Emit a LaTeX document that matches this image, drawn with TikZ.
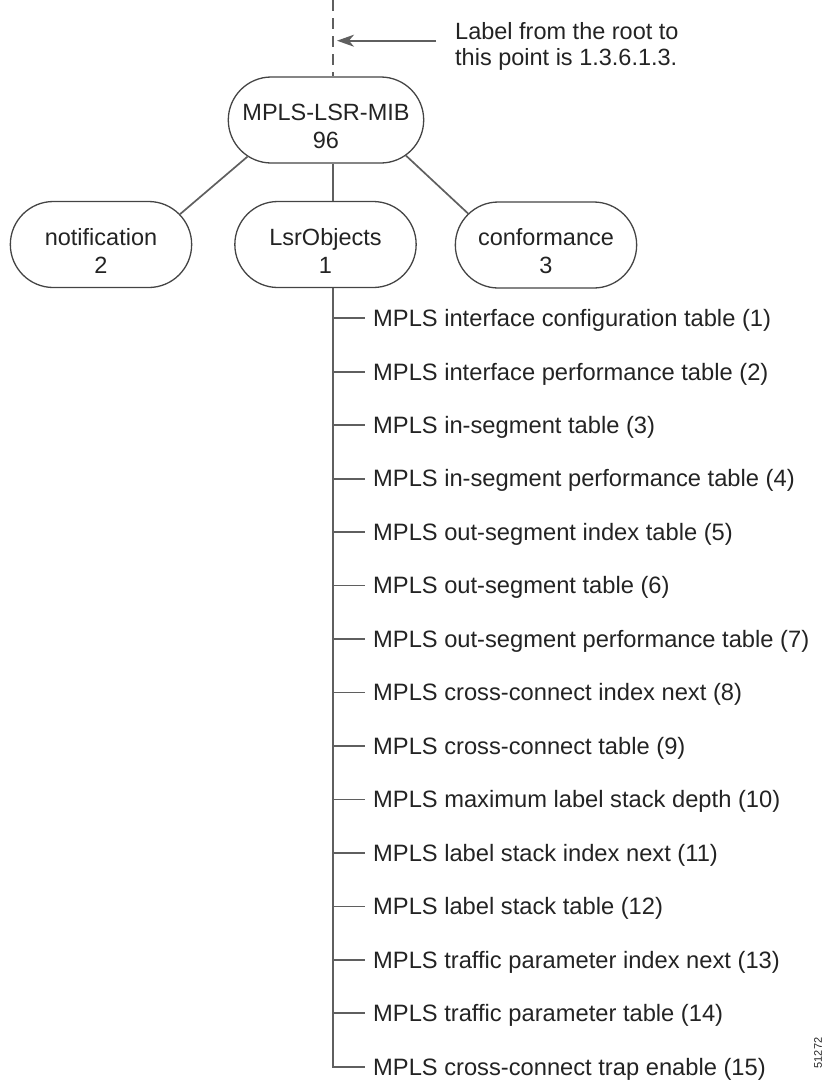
\documentclass[tikz,border=0pt]{standalone}
\usepackage{fontspec}
\setmainfont{Liberation Sans}
\usetikzlibrary{arrows.meta,positioning,shapes.misc}
\definecolor{treegray}{RGB}{95,95,95}
\definecolor{inkgray}{RGB}{35,35,35}

\begin{document}
\begin{tikzpicture}[x=1pt,y=-1pt,>={Stealth[length=17pt,width=12pt,inset=5pt]}]
		\tikzstyle{mib}=[rounded rectangle, draw=inkgray!85, line width=1.3pt, minimum width=188pt, minimum height=86pt, align=center, text height=57pt, text depth=0pt, font=\fontsize{23.5}{28}\selectfont, text=inkgray]
		\tikzstyle{tree}=[draw=treegray, line width=1.7pt]
		\tikzstyle{item}=[anchor=west, inner xsep=8pt, inner ysep=0pt, text height=16.5pt, text depth=0pt, font=\fontsize{23.7}{28}\selectfont, text=inkgray]
		\tikzstyle{note}=[anchor=north west, align=left, inner sep=0pt, font=\fontsize{23.5}{26}\selectfont, text=inkgray]

		\useasboundingbox (0,0) rectangle (828,1080);
		\coordinate (root) at (333,0);
		\coordinate (arrowstart) at (436,40.7);

		\node [mib] (lsrmib) at (326,120) {MPLS-LSR-MIB\\96};
		\node [mib] (notif) at (101,244.5) {notification\\2};
		\node [mib] (lsrobj) at (325.5,244.5) {LsrObjects\\1};
		\node [mib] (conf) at (546,245) {conformance\\3};
		\node [note] (note) at (455,22) {Label from the root to\\this point is 1.3.6.1.3.};

		\draw [tree,dash pattern=on 11pt off 7pt,line width=1.3pt] (root) -- (root |- lsrmib.north);
		\draw [tree,->] (arrowstart) -- ([xshift=4pt]arrowstart -| root);
		\draw [tree] (lsrmib.205) -- (notif.21);
		\draw [tree] (lsrmib.south -| root) -- (lsrobj.north -| root);
		\draw [tree] (lsrmib.336) -- (conf.158);

		% LsrObjects tables
		\node [item] (i1) at (365,318.3) {MPLS interface configuration table (1)};
		\node [item] (i2) [below=53.46pt of i1.west, anchor=west] {MPLS interface performance table (2)};
		\node [item] (i3) [below=53.46pt of i2.west, anchor=west] {MPLS in-segment table (3)};
		\node [item] (i4) [below=53.46pt of i3.west, anchor=west] {MPLS in-segment performance table (4)};
		\node [item] (i5) [below=53.46pt of i4.west, anchor=west] {MPLS out-segment index table (5)};
		\node [item] (i6) [below=53.46pt of i5.west, anchor=west] {MPLS out-segment table (6)};
		\node [item] (i7) [below=53.46pt of i6.west, anchor=west] {MPLS out-segment performance table (7)};
		\node [item] (i8) [below=53.46pt of i7.west, anchor=west] {MPLS cross-connect index next (8)};
		\node [item] (i9) [below=53.46pt of i8.west, anchor=west] {MPLS cross-connect table (9)};
		\node [item] (i10) [below=53.46pt of i9.west, anchor=west] {MPLS maximum label stack depth (10)};
		\node [item] (i11) [below=53.46pt of i10.west, anchor=west] {MPLS label stack index next (11)};
		\node [item] (i12) [below=53.46pt of i11.west, anchor=west] {MPLS label stack table (12)};
		\node [item] (i13) [below=53.46pt of i12.west, anchor=west] {MPLS traffic parameter index next (13)};
		\node [item] (i14) [below=53.46pt of i13.west, anchor=west] {MPLS traffic parameter table (14)};
		\node [item] (i15) [below=53.46pt of i14.west, anchor=west] {MPLS cross-connect trap enable (15)};

		\draw [tree] (lsrobj.south -| root) |- (i15.west);
		\draw [tree] (i1.west -| root) -- (i1.west);
		\draw [tree] (i2.west -| root) -- (i2.west);
		\draw [tree] (i3.west -| root) -- (i3.west);
		\draw [tree] (i4.west -| root) -- (i4.west);
		\draw [tree] (i5.west -| root) -- (i5.west);
		\draw [tree] (i6.west -| root) -- (i6.west);
		\draw [tree] (i7.west -| root) -- (i7.west);
		\draw [tree] (i8.west -| root) -- (i8.west);
		\draw [tree] (i9.west -| root) -- (i9.west);
		\draw [tree] (i10.west -| root) -- (i10.west);
		\draw [tree] (i11.west -| root) -- (i11.west);
		\draw [tree] (i12.west -| root) -- (i12.west);
		\draw [tree] (i13.west -| root) -- (i13.west);
		\draw [tree] (i14.west -| root) -- (i14.west);

		\node [rotate=90, font=\fontsize{11}{13}\selectfont, text=inkgray] (figid) at (818,1053) {51272};
	\end{tikzpicture}
\end{document}
